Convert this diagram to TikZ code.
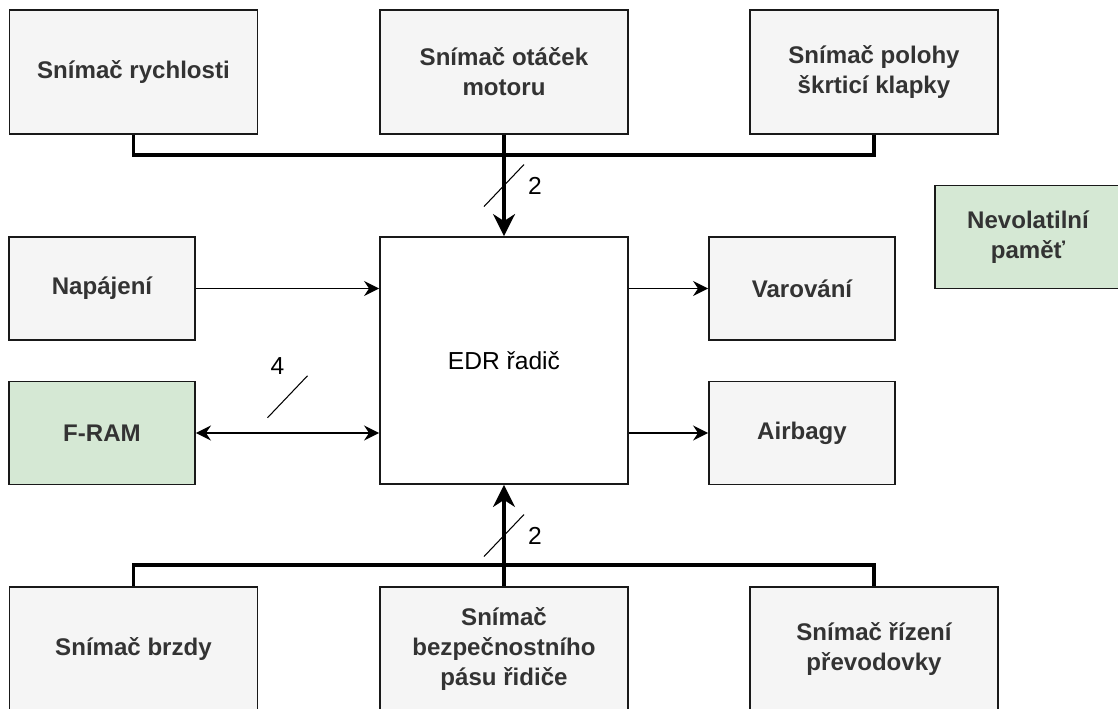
\documentclass[tikz,border=0pt]{standalone}
\usepackage{fontspec}
\setmainfont{Liberation Sans}
\usetikzlibrary{arrows.meta,positioning,calc}
\definecolor{boxgray}{HTML}{F5F5F5}
\definecolor{boxgreen}{HTML}{D5E8D4}
\definecolor{txtgray}{HTML}{333333}
\tikzset{
  >={Stealth[length=3mm,width=3mm,inset=1mm]},
  line/.style={line width=1.1pt},
  bus/.style={line width=1.9pt},
  bigarr/.style={-{Stealth[length=4.4mm,width=4.4mm,inset=1.4mm]}},
  % bloky
  blk/.style={draw=black!90,line width=1.1pt,fill=boxgray,text=txtgray,
    font=\fontsize{13.7}{17}\selectfont\bfseries,align=center,inner sep=0pt,
    minimum width=4.96cm,minimum height=2.48cm},
  sblk/.style={blk,minimum width=3.72cm,minimum height=2.06cm},
  mem/.style={sblk,fill=boxgreen},
  ctrl/.style={blk,fill=white,text=black,font=\fontsize{14}{17}\selectfont,minimum height=4.94cm},
  % značka sběrnice
  tick/.style={line width=.6pt},
  lbl/.style={font=\fontsize{14}{17}\selectfont}
}

\begin{document}
\begin{tikzpicture}[x=0.02cm,y=-0.02cm]
  \useasboundingbox (0,0) rectangle (1118,708);
  \clip (0,0) rectangle (1118,708);

  %--- horní snímače
  \node[blk] (rych)   at (133.5,72) {Snímač rychlosti};
  \node[blk] (otacek) at (504,72)   {Snímač otáček\\motoru};
  \node[blk] (polohy) at (874,72)   {Snímač polohy\\škrticí klapky};
  \node[mem] (nvm)    at (1028,237) {Nevolatilní\\paměť};

  %--- střed
  \node[sblk] (napaj)  at (102,288.5) {Napájení};
  \node[ctrl] (edr)    at (504,360.5) {EDR řadič};
  \node[sblk] (varov)  at (802,288.5) {Varování};
  \node[mem]  (fram)   at (102,433)   {F-RAM};
  \node[sblk] (airbag) at (802,433)   {Airbagy};

  %--- dolní snímače
  \node[blk] (brzdy)  at (133.5,649) {Snímač brzdy};
  \node[blk] (pas)    at (504,649)   {Snímač\\bezpečnostního\\pásu řidiče};
  \node[blk] (prevod) at (874,649)   {Snímač řízení\\převodovky};

  %--- šipky
  \draw[line,->]  (napaj.east) -- (napaj.east -| edr.west);
  \draw[line,<->] (fram.east) -- (fram.east -| edr.west);
  \draw[line,->]  (edr.east |- varov.west) -- (varov.west);
  \draw[line,->]  (edr.east |- airbag.west) -- (airbag.west);

  %--- sběrnice nahoře
  \coordinate (tbus) at ($(otacek.south)+(0,20)$);
  \draw[bus] (rych.south) |- (tbus) -| (polohy.south);
  \draw[bus,bigarr] (otacek.south) -- (edr.north);

  %--- sběrnice dole
  \coordinate (bbus) at ($(pas.north)+(0,-21)$);
  \draw[bus] (brzdy.north) |- (bbus) -| (prevod.north);
  \draw[bus,bigarr] (pas.north) -- (edr.south);

  %--- počet vodičů
  \coordinate (ts) at ($(otacek.south)!.5!(edr.north)$);
  \draw[tick] ($(ts)+(-20,21)$) -- ($(ts)+(20,-21)$);
  \node[lbl] at ($(ts)+(31,0)$) {2};
  \coordinate (bs) at ($(pas.north)!.5!(edr.south)$);
  \draw[tick] ($(bs)+(-20,21)$) -- ($(bs)+(20,-21)$);
  \node[lbl] at ($(bs)+(31,0)$) {2};
  \coordinate (fs) at ($(fram.east)!.5!(edr.west)$);
  \draw[tick] ($(fs)+(-20,21)$) -- ($(fs)+(20,-21)$);
  \node[lbl] at ($(fs)+(-10,-31)$) {4};
\end{tikzpicture}
\end{document}
